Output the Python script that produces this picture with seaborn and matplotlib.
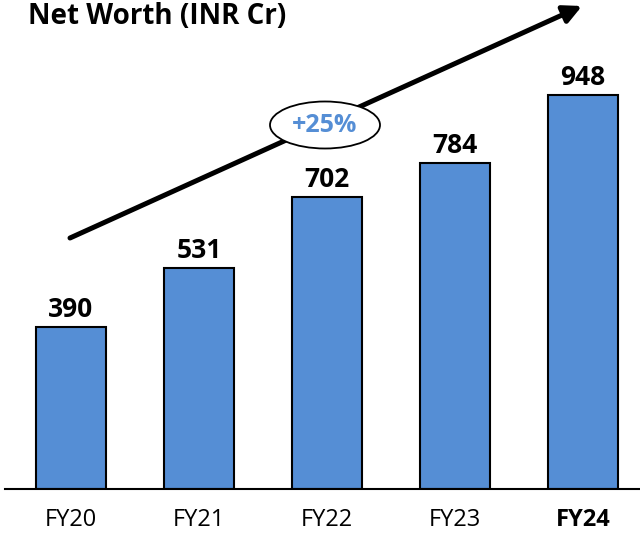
import matplotlib
matplotlib.use("Agg")
import matplotlib.pyplot as plt
from matplotlib.patches import Ellipse
import seaborn as sns
import pandas as pd

years = ["FY20", "FY21", "FY22", "FY23", "FY24"]
net_worth = [390, 531, 702, 784, 948]
title = "Net Worth (INR Cr)"
cagr_label = "+25%"

bar_blue = "#558ED5"

sns.set_theme(style="white")
plt.rcParams['font.family'] = ['Open Sans', 'DejaVu Sans']

df = pd.DataFrame({"year": years, "value": net_worth})

fig = plt.figure(figsize=(6.4, 5.34), dpi=100)
ax = fig.add_axes([5/640, 45/534, 1 - 5/640, 489/534])

sns.barplot(data=df, x="year", y="value", ax=ax, color=bar_blue,
            saturation=1, width=0.55, edgecolor="black", linewidth=1.5)

ax.set_xlim(-0.516, 4.445)
ax.set_ylim(0, 1177)
ax.bar_label(ax.containers[0], padding=3, fontsize=19, fontweight="bold",
             color="black")

for s in ["top", "left", "right"]:
    ax.spines[s].set_visible(False)
ax.spines["bottom"].set_color("black")
ax.spines["bottom"].set_linewidth(1.5)
ax.set_yticks([])
ax.set_xlabel("")
ax.set_ylabel("")
ax.tick_params(axis="x", length=0, pad=14, labelsize=17, colors="black")
for lbl in ax.get_xticklabels():
    if lbl.get_text() == "FY24":
        lbl.set_fontweight("bold")

# growth arrow
ax.annotate("", xy=(582/640, 1 - 6/534), xytext=(70/640, 1 - 238/534),
            xycoords="figure fraction", textcoords="figure fraction",
            arrowprops=dict(arrowstyle="-|>,head_length=0.9,head_width=0.45",
                            color="black", lw=3.6, shrinkA=0, shrinkB=0))

ell = Ellipse((325/640, 1 - 125/534), 110/640, 47/534, transform=fig.transFigure,
              facecolor="white", edgecolor="black", linewidth=1.3, zorder=5)
fig.patches.append(ell)
fig.text(325/640, 1 - 125/534, cagr_label, ha="center", va="center",
         fontsize=18, fontweight="bold", color=bar_blue, zorder=6)

fig.text(28/640, 1 - 16/534, title, ha="left", va="center",
         fontsize=20, fontweight="bold", color="black")

fig.savefig("out.png", dpi=100)
